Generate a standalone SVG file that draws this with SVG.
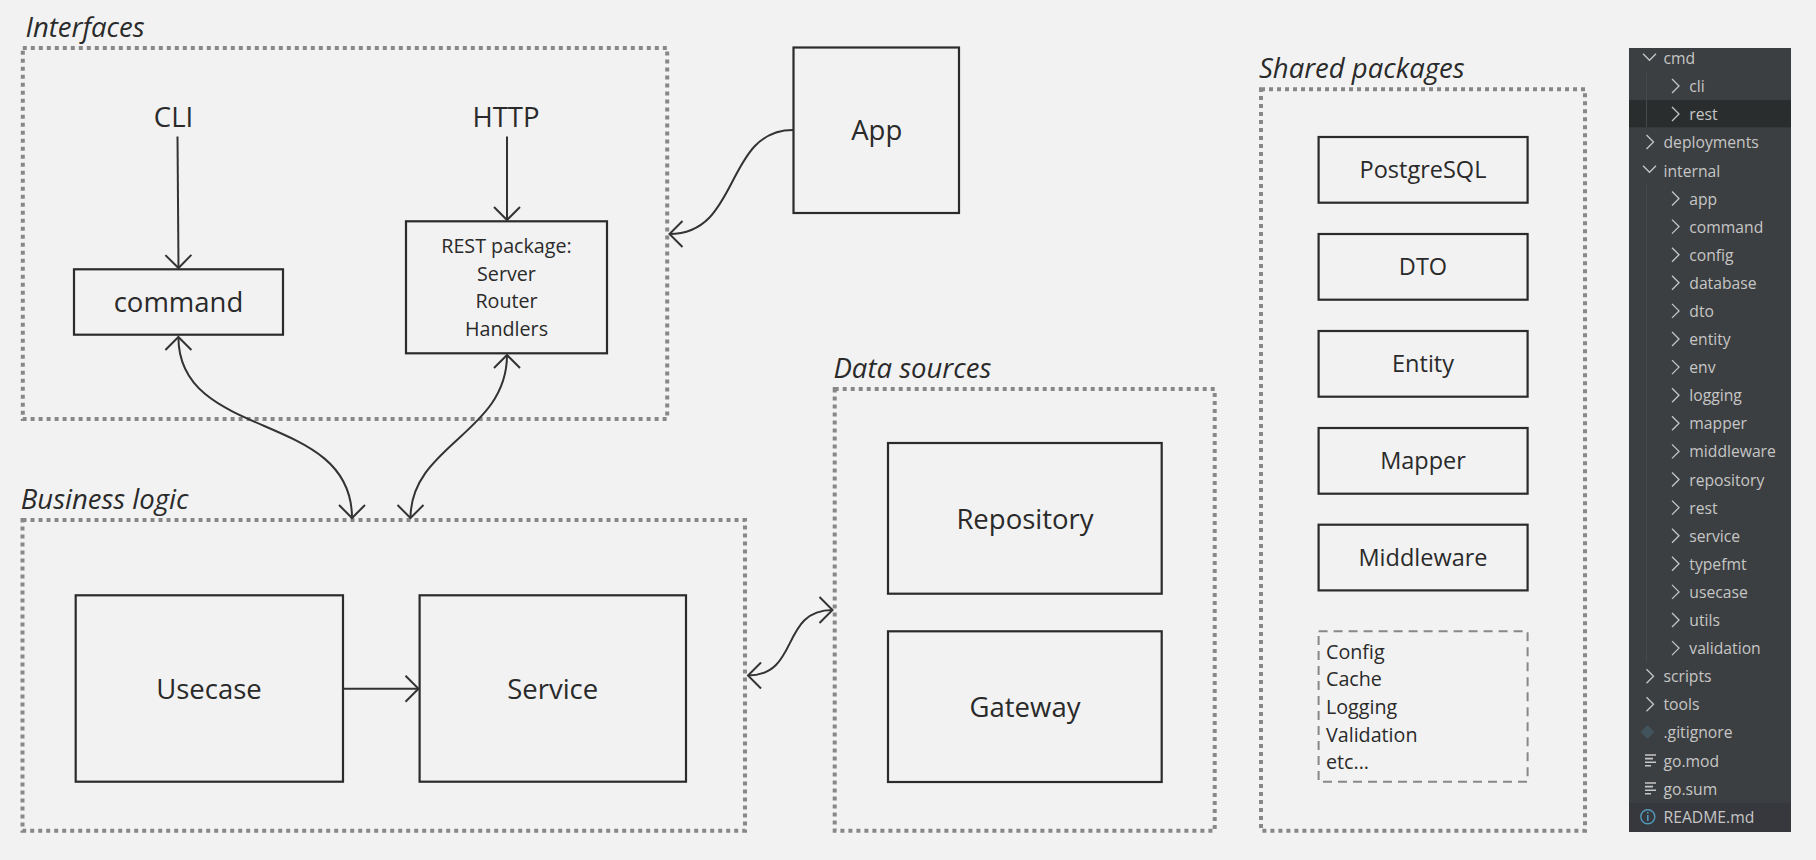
<svg xmlns="http://www.w3.org/2000/svg" width="1816" height="860" viewBox="0 0 1816 860">
<style>
text{font-family:"Open Sans","Liberation Sans",sans-serif;fill:#2a2a2a}
.title{font-size:27.5px;font-style:italic;font-weight:400}
.box{fill:none;stroke:#2b2b2b;stroke-width:2.2}
.dot{fill:none;stroke:#888;stroke-width:4;stroke-dasharray:4 4}
.dash{fill:none;stroke:#888;stroke-width:2;stroke-dasharray:9 6}
.m{text-anchor:middle}
.big{font-size:27.5px;font-weight:400}
.mid{font-size:23.5px;font-weight:400}
.sm{font-size:19.7px;font-weight:400}
.conn path{fill:none;stroke:#333;stroke-width:2;marker-end:url(#a)}
.conn path.two{marker-start:url(#b)}
.tree text{font-size:15.7px;fill:#c6c6c6;font-weight:400}
.chev{fill:none;stroke:#c6c6c6;stroke-width:1.3}
</style>
<defs>
<marker id="a" markerUnits="userSpaceOnUse" markerWidth="30" markerHeight="30" refX="15" refY="15" orient="auto" viewBox="0 0 30 30"><path d="M2 2L15 15L2 28" fill="none" stroke="#333" stroke-width="2"/></marker>
<marker id="b" markerUnits="userSpaceOnUse" markerWidth="30" markerHeight="30" refX="15" refY="15" orient="auto-start-reverse" viewBox="0 0 30 30"><path d="M2 2L15 15L2 28" fill="none" stroke="#333" stroke-width="2"/></marker>
<path id="cr" class="chev" d="M0 -7L7 0L0 7"/>
<path id="cd" class="chev" d="M-6.5 -3.3L0 3.3L6.5 -3.3"/>
<g id="fi"><path d="M0 0H11M0 3.6H8M0 7.2H11M0 10.8H6" stroke="#c6c6c6" stroke-width="1.6" fill="none"/></g>
</defs>
<rect width="1816" height="860" fill="#f2f2f2"/>

<g id="interfaces"><rect class="dot" x="22.8" y="48" width="644.4" height="371"/><text class="title" x="25.5" y="36.7">Interfaces</text></g>
<g id="business"><rect class="dot" x="22.5" y="520" width="722.5" height="310.7"/><text class="title" x="20.8" y="508.7">Business logic</text></g>
<g id="datasources"><rect class="dot" x="834.7" y="389" width="380" height="441.7"/><text class="title" x="833.5" y="377.7">Data sources</text></g>
<g id="shared"><rect class="dot" x="1261" y="89.3" width="324" height="741.4"/><text class="title" x="1259" y="78">Shared packages</text></g>

<g id="cli"><text class="m big" x="173.5" y="126.7">CLI</text></g>
<g id="http"><text class="m big" x="506" y="126.7">HTTP</text></g>
<g id="command"><rect class="box" x="74" y="269.3" width="209" height="65.4"/><text class="m big" x="178.5" y="311.7">command</text></g>
<g id="rest"><rect class="box" x="406" y="221.3" width="201" height="132"/><text class="m sm" x="506.5" y="253.3">REST package:</text><text class="m sm" x="506.5" y="281">Server</text><text class="m sm" x="506.5" y="308">Router</text><text class="m sm" x="506.5" y="336">Handlers</text></g>
<g id="app"><rect class="box" x="793.5" y="47.5" width="165.5" height="165.5"/><text class="m big" x="876.7" y="140">App</text></g>
<g id="usecase"><rect class="box" x="75.7" y="595.3" width="267.3" height="186.4"/><text class="m big" x="209" y="698.7">Usecase</text></g>
<g id="service"><rect class="box" x="419.6" y="595.3" width="266.4" height="186.4"/><text class="m big" x="552.7" y="698.7">Service</text></g>
<g id="repository"><rect class="box" x="888" y="443" width="273.7" height="150.7"/><text class="m big" x="1025" y="529.3">Repository</text></g>
<g id="gateway"><rect class="box" x="888" y="631.3" width="273.7" height="150.7"/><text class="m big" x="1025" y="716.7">Gateway</text></g>

<g id="postgresql"><rect class="box" x="1318.6" y="137" width="209" height="65.7"/><text class="m mid" x="1423" y="178.3">PostgreSQL</text></g>
<g id="dto"><rect class="box" x="1318.6" y="234" width="209" height="65.7"/><text class="m mid" x="1423" y="275">DTO</text></g>
<g id="entity"><rect class="box" x="1318.6" y="331" width="209" height="65.7"/><text class="m mid" x="1423" y="372.3">Entity</text></g>
<g id="mapper"><rect class="box" x="1318.6" y="428" width="209" height="65.7"/><text class="m mid" x="1423" y="469">Mapper</text></g>
<g id="middleware"><rect class="box" x="1318.6" y="524.7" width="209" height="65.7"/><text class="m mid" x="1423" y="566">Middleware</text></g>
<g id="misc"><rect class="dash" x="1318.6" y="631.3" width="209" height="150.4"/><text class="sm" x="1326" y="659.3">Config</text><text class="sm" x="1326" y="686">Cache</text><text class="sm" x="1326" y="714">Logging</text><text class="sm" x="1326" y="742">Validation</text><text class="sm" x="1326" y="769.3">etc...</text></g>

<g id="connectors" class="conn">
<path d="M177.5 136.5L178.5 268"/>
<path d="M507 136.5V220"/>
<path class="two" d="M178.4 337C178.4 442 352 410 352 518"/>
<path class="two" d="M507 355C507 433 410.5 445 410.5 518"/>
<path d="M793 130C724 130 741 234 669.5 234"/>
<path d="M343 688.7H418.5"/>
<path class="two" d="M748 675.5C800 675.5 780 610 832.5 610"/>
</g>

<g id="tree" class="tree">
<rect x="1629" y="48" width="162" height="784" fill="#3c3f41"/>
<rect x="1629" y="100" width="162" height="27.3" fill="#2a2d2e"/>
<rect x="1629" y="802.7" width="162" height="29.3" fill="#37383d"/>
<path d="M1646.5 72V127M1646.5 184V662" stroke="#46494c" stroke-width="1" fill="none"/>
<use href="#cd" x="1649.5" y="57"/><text x="1663.5" y="64">cmd</text>
<use href="#cr" x="1672" y="86"/><text x="1689.3" y="92">cli</text>
<use href="#cr" x="1672" y="114"/><text x="1689.3" y="120.2">rest</text>
<use href="#cr" x="1646.5" y="142"/><text x="1663.5" y="148.3">deployments</text>
<use href="#cd" x="1649.5" y="169"/><text x="1663.5" y="176.6">internal</text>
<use href="#cr" x="1672" y="198.5"/><text x="1689.3" y="204.5">app</text>
<use href="#cr" x="1672" y="226.6"/><text x="1689.3" y="232.6">command</text>
<use href="#cr" x="1672" y="254.7"/><text x="1689.3" y="260.7">config</text>
<use href="#cr" x="1672" y="282.8"/><text x="1689.3" y="288.8">database</text>
<use href="#cr" x="1672" y="310.9"/><text x="1689.3" y="316.9">dto</text>
<use href="#cr" x="1672" y="339"/><text x="1689.3" y="345">entity</text>
<use href="#cr" x="1672" y="367.1"/><text x="1689.3" y="373.1">env</text>
<use href="#cr" x="1672" y="395.2"/><text x="1689.3" y="401.2">logging</text>
<use href="#cr" x="1672" y="423.3"/><text x="1689.3" y="429.3">mapper</text>
<use href="#cr" x="1672" y="451.4"/><text x="1689.3" y="457.4">middleware</text>
<use href="#cr" x="1672" y="479.5"/><text x="1689.3" y="485.5">repository</text>
<use href="#cr" x="1672" y="507.6"/><text x="1689.3" y="513.6">rest</text>
<use href="#cr" x="1672" y="535.7"/><text x="1689.3" y="541.7">service</text>
<use href="#cr" x="1672" y="563.8"/><text x="1689.3" y="569.8">typefmt</text>
<use href="#cr" x="1672" y="591.9"/><text x="1689.3" y="597.9">usecase</text>
<use href="#cr" x="1672" y="620"/><text x="1689.3" y="626">utils</text>
<use href="#cr" x="1672" y="648.1"/><text x="1689.3" y="654.1">validation</text>
<use href="#cr" x="1646.5" y="676.2"/><text x="1663.5" y="682.2">scripts</text>
<use href="#cr" x="1646.5" y="704.3"/><text x="1663.5" y="710.3">tools</text>
<path d="M1647.5 725L1654.5 732L1647.5 739L1640.5 732Z" fill="#41535b"/><text x="1663.5" y="738.4">.gitignore</text>
<use href="#fi" x="1645" y="755"/><text x="1663.5" y="766.5">go.mod</text>
<use href="#fi" x="1645" y="783"/><text x="1663.5" y="794.6">go.sum</text>
<circle cx="1647.8" cy="816.7" r="7" fill="none" stroke="#519aba" stroke-width="1.4"/><path d="M1647.8 815V821M1647.8 812V813.5" stroke="#519aba" stroke-width="1.6" fill="none"/><text x="1663.5" y="822.7">README.md</text>
</g>
</svg>
